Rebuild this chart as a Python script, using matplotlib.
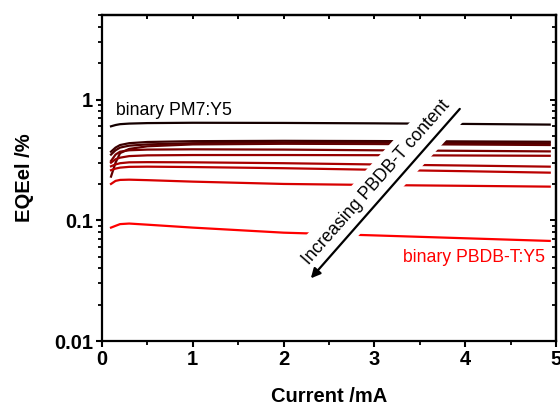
import matplotlib
matplotlib.use("Agg")
import matplotlib.pyplot as plt
from matplotlib.ticker import LogLocator, NullFormatter, MultipleLocator

plt.rcParams['font.family'] = ['Liberation Sans', 'DejaVu Sans']

# Current (mA) sample points
current = [0.1, 0.15, 0.2, 0.3, 0.5, 1.0, 2.0, 3.0, 4.0, 4.93]

# EQEel (%) per blend, from binary PM7:Y5 (top) to binary PBDB-T:Y5 (bottom)
eqe_pm7 = [0.60, 0.615, 0.625, 0.632, 0.638, 0.642, 0.64, 0.635, 0.628, 0.62]
eqe_a = [0.37, 0.40, 0.42, 0.435, 0.445, 0.452, 0.455, 0.453, 0.45, 0.447]
eqe_b = [0.35, 0.38, 0.40, 0.415, 0.425, 0.435, 0.44, 0.44, 0.437, 0.435]
eqe_c = [0.23, 0.30, 0.36, 0.39, 0.41, 0.425, 0.43, 0.428, 0.424, 0.42]
eqe_d = [0.31, 0.35, 0.37, 0.38, 0.385, 0.387, 0.385, 0.38, 0.376, 0.372]
eqe_e = [0.30, 0.32, 0.33, 0.34, 0.345, 0.347, 0.347, 0.346, 0.344, 0.342]
eqe_f = [0.28, 0.29, 0.297, 0.302, 0.303, 0.302, 0.297, 0.29, 0.284, 0.278]
eqe_g = [0.26, 0.268, 0.273, 0.277, 0.278, 0.276, 0.27, 0.262, 0.255, 0.248]
eqe_h = [0.20, 0.212, 0.216, 0.217, 0.215, 0.209, 0.200, 0.196, 0.193, 0.19]
eqe_pbdbt = [0.087, 0.090, 0.093, 0.094, 0.092, 0.087, 0.079, 0.075, 0.071, 0.0675]

series = [eqe_pm7, eqe_a, eqe_b, eqe_c, eqe_d, eqe_e, eqe_f, eqe_g, eqe_h, eqe_pbdbt]
colors = ['#140000', '#3c0000', '#4d0000', '#600000', '#7a0000', '#950000',
          '#a80000', '#bb0000', '#d80000', '#ff0000']

fig = plt.figure(figsize=(5.6, 4.08), dpi=100)
ax = fig.add_axes([0.182, 0.164, 0.811, 0.799])

for ys, c in zip(series, colors):
    ax.plot(current, ys, color=c, lw=1.6, zorder=2)

ax.set_yscale('log')
ax.set_xlim(0, 5)
ax.set_ylim(0.01, 5)

ax.set_yticks([0.01, 0.1, 1])
ax.set_yticklabels(['0.01', '0.1', '1'])
ax.yaxis.set_minor_locator(LogLocator(base=10, subs=range(2, 10)))
ax.yaxis.set_minor_formatter(NullFormatter())
ax.set_xticks([0, 1, 2, 3, 4, 5])
ax.xaxis.set_minor_locator(MultipleLocator(0.5))

for s in ax.spines.values():
    s.set_linewidth(1.6)

ax.tick_params(which='major', left=True, bottom=True, direction='out', length=4.5, width=1.5,
               labelsize=14.5, pad=2)
ax.tick_params(which='minor', left=True, bottom=True, direction='out', length=2.6, width=1.3)
for lab in ax.get_xticklabels() + ax.get_yticklabels():
    lab.set_fontweight('bold')

# inward ticks on top and right
axt = ax.secondary_xaxis('top')
axt.set_xticks([0, 1, 2, 3, 4, 5])
axt.xaxis.set_minor_locator(MultipleLocator(0.5))
axt.tick_params(which='both', direction='in', length=3, width=1.4, labeltop=False)
axr = ax.secondary_yaxis('right')
axr.set_yticks([0.01, 0.1, 1])
axr.yaxis.set_minor_locator(LogLocator(base=10, subs=range(2, 10)))
axr.yaxis.set_minor_formatter(NullFormatter())
axr.tick_params(which='major', direction='in', length=4.5, width=1.4, labelright=False)
axr.tick_params(which='minor', direction='in', length=2.6, width=1.3, labelright=False)
axt.spines['top'].set_linewidth(1.6)
axr.spines['right'].set_linewidth(1.6)

ax.set_xlabel('Current /mA', fontsize=14.5, fontweight='bold', labelpad=13)
ax.set_ylabel('EQEel /%', fontsize=14.5, fontweight='bold', labelpad=14)

# white band behind the arrow and text
ax.plot([3.91, 2.07], [1.0, 0.031], color='white', lw=28, solid_capstyle='butt', zorder=3)
ax.annotate('', xy=(2.28, 0.0318), xytext=(3.96, 0.87),
            arrowprops=dict(arrowstyle='-|>', color='black', lw=1.6, mutation_scale=14),
            zorder=4)
ax.text(3.02, 0.205, 'Increasing PBDB-T content', rotation=48.5, rotation_mode='anchor',
        ha='center', va='center', fontsize=12.7, zorder=5)

ax.text(0.15, 0.75, 'binary PM7:Y5', fontsize=12.7, color='black', ha='left', va='baseline')
ax.text(4.88, 0.0489, 'binary PBDB-T:Y5', fontsize=12.7, color='#ff0000', ha='right',
        va='center')

fig.savefig('out.png', dpi=100)
